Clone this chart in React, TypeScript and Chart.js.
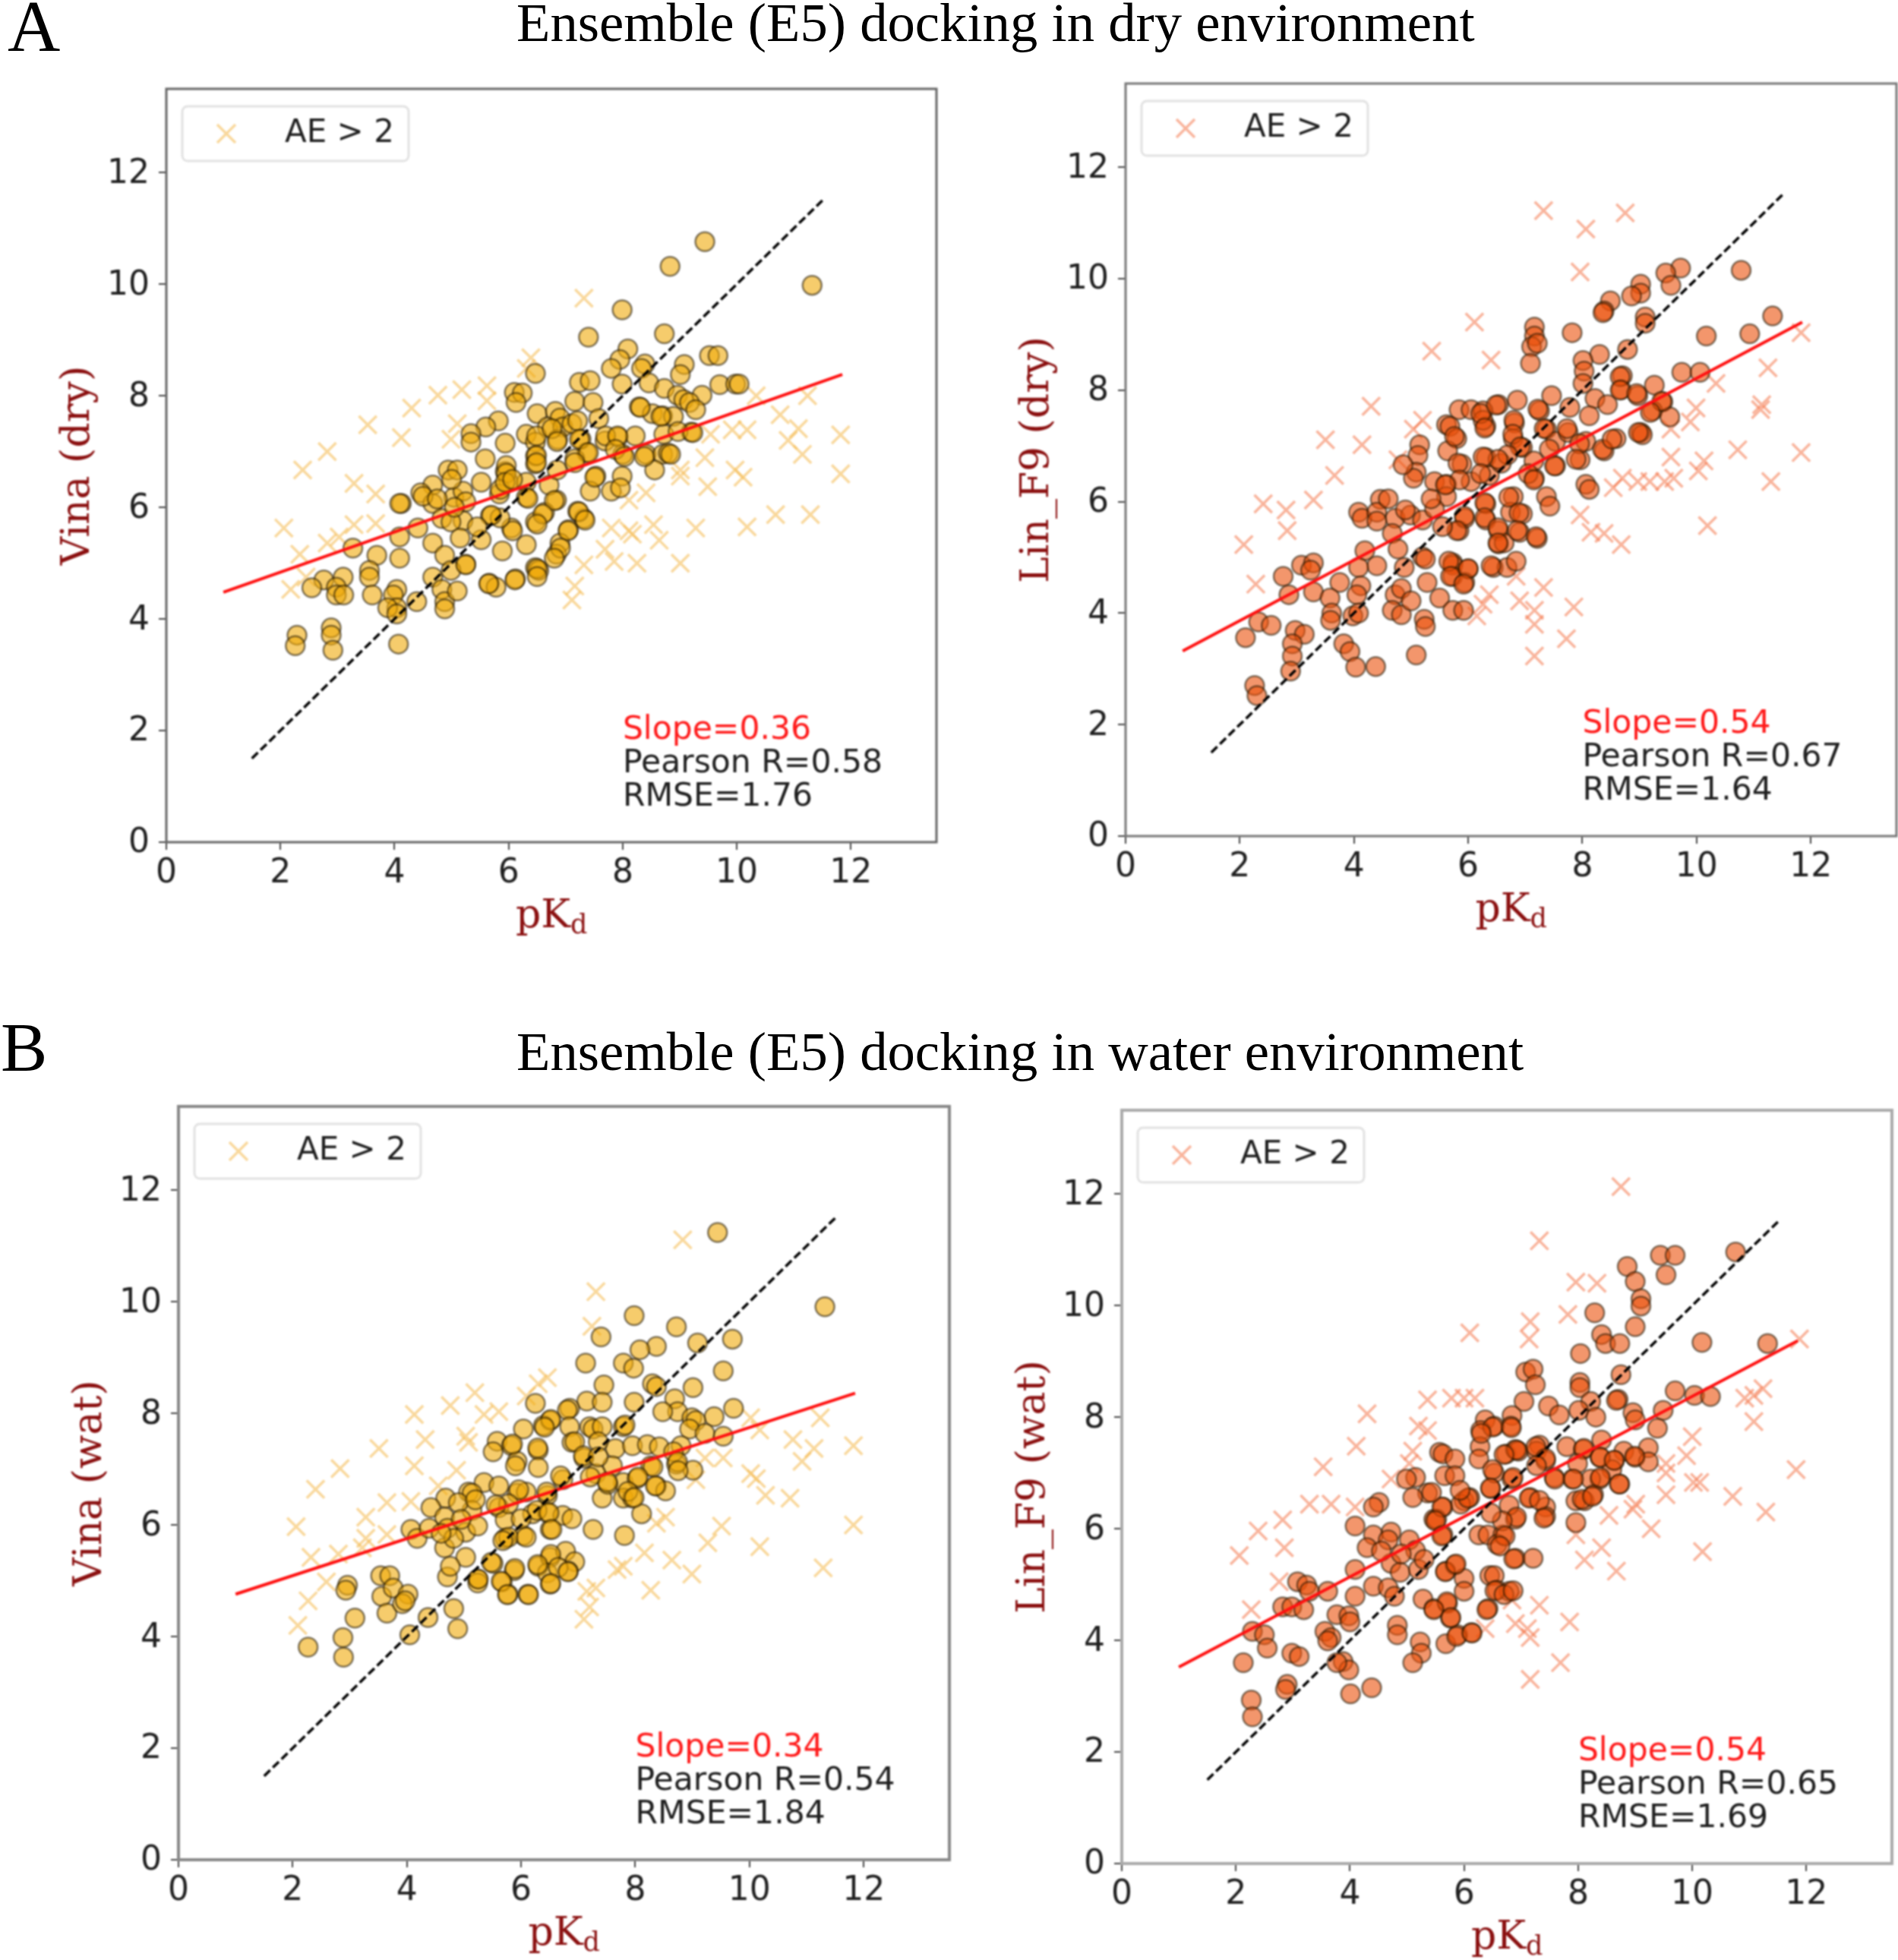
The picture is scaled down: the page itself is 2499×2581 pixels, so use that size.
import React, { useEffect, useRef } from "react";
import { Chart, registerables } from "chart.js";

Chart.register(...registerables);

type P = [number, number];

const vinaDryCircles: P[] = [[9.44,10.76],[8.83,10.32],[11.32,9.98],[7.99,9.54],[7.4,9.05],[8.73,9.11],[8.09,8.84],[9.52,8.72],[9.67,8.72],[7.95,8.65],[7.8,8.49],[8.39,8.57],[9.08,8.56],[6.47,8.4],[8.33,8.49],[6.1,8.06],[6.24,8.05],[6.13,7.88],[7.24,8.24],[7.43,8.27],[7.99,8.21],[8.46,8.23],[8.73,8.13],[9.01,8.38],[9.7,8.2],[9.98,8.21],[10.04,8.21],[9.39,8.01],[8.96,8.01],[9.07,7.93],[9.17,7.88],[9.28,7.75],[7.16,7.9],[8.29,7.8],[8.52,7.68],[8.7,7.64],[8.89,7.63],[7.48,7.88],[6.5,7.68],[6.82,7.72],[6.9,7.6],[6.68,7.44],[6.95,7.44],[7.11,7.5],[7.21,7.55],[5.82,7.55],[5.6,7.44],[5.34,7.32],[5.34,7.17],[6.31,7.31],[6.47,7.17],[5.94,7.15],[6.86,7.22],[7.27,7.22],[7.69,7.19],[7.92,7.26],[8.22,7.28],[8.72,7.31],[9.2,7.35],[7.37,6.98],[7.16,6.87],[6.47,6.92],[6.47,6.78],[5.59,6.87],[8.0,6.95],[8.41,6.95],[8.7,6.95],[8.8,6.97],[8.56,6.67],[7.53,6.56],[7.99,6.56],[4.94,6.67],[5.1,6.67],[5.94,6.64],[5.52,6.45],[6.0,6.45],[6.31,6.45],[4.67,6.4],[4.46,6.26],[4.67,6.07],[4.12,6.07],[4.09,6.07],[5.04,6.18],[5.2,6.29],[5.84,6.24],[6.31,6.18],[6.84,6.13],[7.43,6.29],[7.8,6.29],[7.96,6.35],[4.83,5.8],[5.2,5.76],[4.99,5.74],[5.68,5.85],[6.05,5.63],[6.47,5.74],[6.63,5.91],[7.05,5.6],[7.32,5.8],[7.21,5.93],[4.41,5.63],[4.09,5.47],[4.67,5.36],[5.52,5.42],[6.31,5.33],[6.9,5.36],[5.89,5.22],[4.88,5.14],[5.25,4.98],[3.27,5.27],[3.69,5.14],[4.09,5.09],[6.84,5.16],[6.47,4.92],[6.53,4.87],[4.67,4.75],[4.99,4.87],[3.56,4.87],[3.56,4.75],[3.61,4.43],[2.76,4.7],[3.1,4.75],[2.55,4.56],[2.98,4.57],[2.98,4.43],[3.11,4.43],[4.04,4.53],[3.98,4.43],[4.04,4.2],[4.39,4.31],[4.83,4.53],[4.88,4.31],[4.88,4.18],[5.1,4.5],[5.66,4.64],[5.78,4.57],[6.12,4.72],[3.88,4.2],[4.04,4.09],[2.29,3.71],[2.26,3.52],[2.89,3.84],[2.89,3.71],[2.92,3.44],[4.07,3.55]];
const vinaDryDense: P[] = [[6.49,7.28],[6.49,6.93],[6.49,6.8],[5.96,6.75],[5.96,6.61],[5.85,6.32],[5.94,6.45],[6.07,6.5],[6.34,6.16],[6.71,6.4],[6.85,6.67],[6.76,7.41],[6.85,7.18],[7.58,7.59],[7.24,7.22],[7.4,6.98],[7.16,6.8],[7.7,7.28],[7.91,7.28],[7.87,7.04],[8.03,6.91],[8.38,6.91],[8.84,6.95],[7.51,6.54],[6.8,6.12],[6.6,5.88],[6.5,5.7],[6.07,5.58],[5.85,5.81],[5.7,5.86],[7.23,5.92],[7.34,5.77],[7.04,5.58],[6.91,5.27],[6.8,5.09],[6.5,4.9],[6.5,4.76],[6.11,4.7],[5.65,4.63],[5.25,4.97],[8.31,7.79],[8.67,7.63],[8.97,7.36],[9.23,7.34],[5.0,6.5],[5.25,6.1],[4.5,6.2],[4.75,6.15],[5.05,6.0],[5.45,5.65],[5.15,5.45]];
const vinaDryCrosses: P[] = [[7.32,9.75],[6.39,8.68],[6.31,8.49],[4.76,8.01],[4.3,7.78],[5.18,8.11],[5.62,8.18],[5.62,7.91],[3.53,7.48],[4.12,7.25],[4.99,7.22],[5.1,7.5],[2.82,7.0],[2.39,6.67],[3.29,6.43],[3.67,6.24],[2.06,5.63],[3.29,5.69],[3.67,5.71],[2.34,5.16],[2.82,5.36],[3.03,5.47],[2.18,4.53],[2.45,4.75],[10.34,8.0],[11.24,8.0],[10.76,7.66],[11.08,7.41],[10.9,7.2],[11.15,6.95],[11.82,7.3],[11.82,6.6],[9.54,7.31],[9.92,7.39],[10.18,7.39],[9.44,6.89],[9.01,6.67],[9.01,6.56],[9.49,6.37],[9.97,6.67],[10.11,6.54],[10.18,5.65],[10.68,5.87],[11.29,5.87],[9.28,5.63],[9.01,5.0],[8.11,6.13],[8.41,6.26],[7.8,5.63],[8.11,5.58],[8.54,5.69],[8.64,5.41],[7.69,5.25],[7.85,5.03],[8.25,5.0],[7.32,4.97],[7.16,4.59],[7.11,4.34],[8.17,5.52]];

const linDryCircles: P[] = [[9.72,10.19],[9.46,10.1],[10.78,10.15],[9.55,9.88],[9.02,9.9],[9.02,9.74],[8.86,9.69],[8.49,9.6],[8.38,9.42],[8.36,9.39],[9.1,9.31],[9.1,9.2],[11.33,9.33],[10.17,8.97],[10.93,9.01],[7.16,9.13],[7.16,8.97],[7.11,8.78],[7.21,8.84],[7.09,8.48],[7.82,9.03],[8.79,8.73],[8.3,8.64],[8.01,8.53],[8.03,8.34],[8.01,8.12],[8.7,8.26],[8.68,8.01],[9.74,8.32],[10.06,8.32],[9.26,8.09],[8.97,7.9],[9.41,7.79],[9.23,7.63],[9.53,7.52],[7.46,7.9],[6.86,7.82],[6.53,7.74],[7.25,7.63],[5.84,7.65],[6.05,7.65],[6.26,7.63],[6.31,7.35],[6.26,7.46],[8.22,7.85],[8.44,7.74],[8.12,7.54],[5.62,7.38],[5.68,7.35],[5.8,7.13],[5.64,6.91],[5.15,7.02],[5.12,6.83],[5.09,6.53],[5.04,6.42],[4.86,6.66],[4.46,6.04],[5.89,6.67],[6.31,6.79],[6.81,7.41],[6.79,7.13],[6.95,6.97],[7.37,7.3],[7.53,7.08],[7.75,7.24],[8.06,7.08],[8.38,6.91],[8.59,7.13],[9.02,7.24],[9.05,7.2],[7.16,6.42],[7.37,6.09],[7.43,5.92],[7.53,6.64],[7.96,6.75],[8.06,6.31],[8.12,6.22],[5.41,6.36],[5.62,6.31],[6.05,6.36],[6.37,6.47],[6.58,6.69],[5.62,6.09],[6.31,5.96],[6.79,6.09],[6.74,5.81],[6.95,5.78],[4.08,5.81],[4.14,5.7],[4.4,5.81],[4.72,5.7],[4.99,5.76],[4.4,5.65],[5.2,5.67],[5.41,5.87],[5.84,5.48],[5.94,5.7],[6.31,5.67],[6.53,5.48],[6.9,5.45],[7.21,5.34],[6.53,5.24],[6.63,5.26],[4.67,5.43],[4.77,5.15],[4.19,5.12],[5.2,5.01],[5.25,4.97],[5.73,4.9],[5.73,4.86],[6.0,4.79],[5.73,4.66],[5.94,4.55],[6.44,4.82],[6.68,4.82],[6.84,4.93],[4.4,4.85],[4.08,4.82],[4.88,4.82],[3.08,4.86],[3.29,4.9],[3.24,4.77],[2.76,4.66],[2.86,4.33],[3.29,4.38],[3.75,4.55],[4.12,4.49],[4.05,4.33],[3.58,4.27],[3.61,4.0],[3.59,3.87],[3.98,3.95],[4.08,4.0],[4.72,4.33],[4.83,4.44],[4.67,4.05],[4.83,3.97],[5.0,4.22],[5.28,4.55],[5.5,4.27],[5.73,4.05],[5.92,4.05],[5.23,3.89],[5.25,3.76],[2.33,3.84],[2.55,3.78],[2.1,3.56],[2.97,3.69],[3.13,3.62],[2.92,3.45],[2.92,3.23],[2.89,2.96],[3.82,3.45],[3.93,3.31],[4.03,3.03],[4.38,3.04],[5.09,3.25],[2.26,2.7],[2.3,2.52]];
const linDryDense: P[] = [[6.22,7.58],[6.29,7.32],[6.49,7.73],[6.8,7.46],[6.78,7.21],[6.91,6.98],[7.22,7.66],[7.78,7.69],[7.33,7.31],[7.73,7.31],[7.42,6.94],[7.95,7.04],[8.35,6.94],[8.52,7.12],[7.89,6.76],[7.51,6.64],[7.15,6.73],[7.05,6.5],[7.15,6.39],[6.69,6.84],[6.52,6.76],[6.26,6.8],[5.82,6.69],[5.76,7.17],[6.22,6.5],[5.85,6.39],[5.6,6.3],[6.29,5.98],[6.71,6.08],[6.89,5.8],[6.29,5.71],[5.93,5.74],[5.8,5.48],[6.52,5.53],[6.52,5.26],[6.86,5.48],[7.19,5.37],[8.98,7.24],[8.66,8.24],[8.66,8.0],[8.95,7.94],[9.39,7.8],[9.19,7.6],[5.66,4.93],[6.0,4.8],[5.69,4.66],[5.92,4.52],[6.4,4.85],[4.6,6.05],[4.9,5.85],[5.55,5.55],[5.35,6.05]];
const linDryCrosses: P[] = [[7.32,11.22],[8.75,11.18],[8.06,10.89],[7.96,10.12],[6.11,9.22],[5.36,8.7],[6.4,8.54],[11.83,9.03],[11.25,8.4],[10.34,8.12],[11.14,7.74],[11.12,7.65],[9.99,7.68],[9.89,7.43],[9.55,7.3],[4.3,7.71],[3.5,7.11],[4.14,7.02],[5.2,7.46],[5.04,7.3],[3.66,6.47],[3.29,6.03],[2.41,5.96],[2.81,5.85],[2.83,5.48],[2.07,5.23],[2.28,4.52],[4.77,6.75],[10.72,6.93],[11.83,6.88],[11.3,6.36],[10.13,6.73],[10.03,6.55],[9.55,6.8],[8.54,6.25],[8.7,6.42],[8.97,6.36],[9.18,6.36],[9.44,6.36],[9.6,6.42],[10.19,5.57],[7.96,5.76],[8.15,5.45],[8.38,5.43],[8.68,5.23],[6.84,4.66],[7.32,4.46],[7.85,4.11],[6.9,4.22],[7.16,4.05],[7.16,3.8],[7.72,3.54],[7.16,3.23],[6.37,4.33],[6.26,4.16],[6.15,3.95]];

const vinaWatCircles: P[] = [[9.44,11.24],[11.32,9.91],[7.98,9.75],[8.72,9.55],[7.4,9.37],[9.7,9.33],[9.09,9.26],[8.37,9.2],[8.08,9.14],[7.79,8.9],[7.97,8.81],[7.13,8.9],[9.54,8.76],[8.3,8.53],[8.37,8.48],[9.01,8.46],[7.45,8.51],[8.69,8.26],[7.98,8.2],[8.74,8.03],[8.48,8.03],[7.15,8.22],[7.42,8.2],[6.25,8.18],[6.85,8.09],[6.81,8.06],[9.72,8.09],[9.38,7.94],[8.99,7.92],[9.06,7.87],[8.95,7.72],[6.51,7.87],[6.39,7.78],[6.04,7.72],[6.85,7.76],[6.89,7.48],[7.2,7.76],[7.26,7.72],[7.79,7.76],[5.58,7.5],[5.83,7.42],[5.51,7.31],[6.3,7.34],[6.3,7.03],[5.93,7.14],[5.9,7.06],[7.1,7.2],[7.65,7.37],[7.95,7.42],[8.21,7.44],[8.42,7.4],[8.8,7.42],[9.22,7.64],[9.54,7.59],[7.6,7.06],[8.27,7.06],[8.72,7.09],[9.01,6.98],[7.31,6.92],[5.35,6.76],[5.61,6.7],[5.08,6.59],[5.14,6.57],[4.68,6.48],[4.42,6.31],[4.66,6.14],[5.14,6.26],[5.93,6.57],[6.09,6.59],[6.46,6.53],[6.73,6.81],[7.79,6.76],[8.03,6.83],[7.79,6.48],[7.95,6.48],[8.11,6.2],[8.37,6.7],[8.53,6.61],[7.42,6.48],[7.52,6.73],[4.07,5.92],[4.18,5.76],[4.39,5.94],[4.71,5.94],[5.03,5.87],[5.24,5.98],[5.61,6.31],[5.72,6.09],[6.2,6.2],[6.46,6.22],[6.73,6.17],[6.89,6.11],[6.51,5.92],[6.04,5.81],[5.72,5.76],[7.26,5.92],[7.81,5.81],[4.66,5.59],[4.82,5.76],[5.03,5.42],[5.51,5.31],[5.88,5.18],[6.3,5.26],[6.51,5.42],[6.78,5.53],[6.94,5.34],[6.83,5.17],[6.46,5.14],[6.51,4.94],[4.71,5.07],[4.76,5.26],[5.24,5.03],[5.24,4.96],[5.67,4.98],[5.77,4.76],[6.12,4.76],[2.96,4.92],[2.93,4.83],[3.54,5.09],[3.7,5.09],[3.56,4.72],[3.76,4.87],[3.65,4.42],[4.02,4.76],[3.92,4.59],[3.97,4.64],[4.82,4.5],[4.37,4.34],[4.89,4.14],[4.05,4.03],[3.09,4.33],[2.88,3.98],[2.89,3.63],[2.27,3.81]];
const vinaWatDense: P[] = [[6.52,7.89],[6.41,7.75],[7.42,7.76],[6.94,7.49],[7.35,7.49],[7.82,7.79],[5.85,7.45],[6.29,7.38],[7.09,7.24],[7.35,7.22],[8.31,7.04],[8.67,7.31],[8.74,7.13],[8.75,6.97],[8.05,6.86],[8.35,6.7],[7.51,6.77],[7.87,6.6],[6.69,6.88],[7.21,6.86],[6.45,6.59],[5.96,6.63],[5.78,6.38],[6.28,6.26],[6.49,6.22],[5.56,6.36],[6.0,6.11],[6.54,5.92],[5.78,5.78],[6.09,5.78],[5.68,5.72],[6.52,5.47],[6.29,5.29],[6.65,5.24],[6.82,5.16],[6.52,4.95],[5.48,5.33],[5.89,5.22],[5.25,5.03],[5.65,4.99],[5.76,4.75],[6.13,4.75],[7.98,6.49],[4.9,6.4],[5.2,6.45],[4.95,6.1],[4.6,5.85]];
const vinaWatCrosses: P[] = [[8.83,11.11],[7.31,10.18],[7.24,9.56],[6.46,8.64],[6.3,8.53],[6.09,8.31],[5.19,8.37],[4.76,8.14],[4.13,7.98],[5.61,8.03],[5.35,7.98],[4.32,7.53],[5.03,7.59],[5.08,7.48],[3.51,7.37],[4.13,7.06],[2.83,7.01],[4.87,6.98],[2.4,6.64],[3.65,6.4],[3.28,6.14],[2.06,5.97],[3.65,5.83],[2.32,5.42],[3.28,5.76],[2.8,5.48],[3.22,5.59],[2.59,4.98],[2.27,4.64],[2.09,4.2],[4.55,6.7],[4.07,6.42],[10.02,7.92],[10.18,7.7],[11.24,7.92],[10.76,7.53],[11.13,7.37],[10.92,7.14],[11.82,7.42],[11.82,6.0],[11.29,5.23],[10.02,6.92],[10.12,6.83],[10.28,6.53],[10.71,6.48],[10.18,5.61],[9.51,5.98],[9.27,5.68],[8.99,5.12],[9.22,7.2],[9.54,7.2],[9.06,6.81],[8.53,6.14],[8.37,6.03],[8.16,5.5],[8.64,5.37],[8.27,4.83],[7.79,5.26],[7.68,5.2],[7.31,4.87],[7.15,4.81],[7.2,4.53],[7.1,4.31]];

const linWatCircles: P[] = [[10.76,10.96],[9.44,10.9],[9.7,10.9],[9.54,10.55],[8.86,10.7],[9.0,10.43],[9.1,10.12],[9.1,9.99],[9.0,9.62],[8.29,9.87],[8.41,9.48],[8.48,9.32],[8.73,9.32],[10.17,9.34],[11.32,9.32],[8.04,9.14],[7.08,8.81],[7.21,8.86],[7.25,8.58],[8.75,8.76],[8.03,8.62],[8.03,8.53],[8.22,8.28],[8.01,8.12],[8.31,8.0],[8.7,8.32],[8.67,8.3],[9.7,8.47],[10.04,8.39],[10.32,8.37],[9.49,8.12],[8.96,8.08],[9.0,7.95],[9.39,7.8],[7.48,8.2],[7.05,8.28],[7.67,8.04],[6.84,8.03],[6.82,7.84],[6.37,7.95],[6.53,7.84],[6.29,7.76],[6.28,7.47],[6.26,7.25],[5.57,7.37],[5.63,7.34],[5.84,7.25],[5.66,6.95],[5.84,6.95],[6.74,7.34],[6.9,7.42],[6.95,7.39],[7.32,7.5],[7.27,7.39],[7.43,7.22],[7.8,7.47],[8.09,7.42],[8.41,7.59],[8.8,7.39],[9.0,7.28],[9.23,7.45],[9.23,7.2],[8.38,7.28],[8.64,7.22],[8.59,7.06],[8.38,6.89],[8.73,6.8],[5.15,6.92],[4.99,6.89],[5.36,6.64],[5.1,6.56],[4.51,6.47],[4.41,6.39],[5.63,6.39],[6.0,6.5],[6.1,6.56],[6.47,6.72],[6.53,7.0],[6.84,6.89],[7.58,6.92],[7.9,6.89],[8.22,6.89],[7.96,6.5],[8.11,6.5],[8.27,6.61],[7.16,6.56],[7.43,6.39],[7.43,6.22],[6.9,6.17],[4.09,6.05],[5.47,6.17],[5.52,6.17],[5.63,5.89],[6.26,5.89],[6.42,5.89],[6.68,5.89],[6.58,5.72],[7.96,6.11],[4.41,5.89],[4.72,5.94],[4.67,5.8],[5.04,5.8],[4.3,5.66],[5.15,5.61],[6.9,5.47],[7.21,5.47],[4.72,5.38],[4.88,5.22],[5.2,5.27],[5.68,5.24],[5.84,5.35],[6.0,5.11],[6.45,5.16],[6.53,5.16],[4.09,5.27],[4.09,4.79],[4.41,4.97],[4.67,4.94],[4.78,4.79],[6.0,4.88],[6.58,4.9],[6.79,4.88],[5.28,4.74],[5.47,4.57],[5.71,4.66],[6.42,4.57],[5.76,4.4],[3.08,5.05],[3.24,4.99],[3.29,4.88],[3.61,4.88],[2.82,4.6],[2.98,4.6],[3.19,4.55],[3.77,4.46],[3.98,4.44],[4.0,4.33],[4.83,4.27],[4.83,4.1],[3.56,4.16],[3.67,4.05],[3.61,3.99],[5.68,3.94],[5.89,4.1],[6.13,4.14],[2.29,4.16],[2.5,4.1],[2.55,3.86],[2.13,3.6],[2.98,3.77],[3.11,3.71],[5.23,3.97],[5.25,3.77],[5.1,3.6],[3.88,3.62],[3.98,3.47],[3.77,3.6],[2.9,3.21],[2.87,3.12],[4.01,3.04],[4.38,3.15],[2.27,2.93],[2.29,2.63]];
const linWatDense: P[] = [[6.5,7.82],[6.3,7.71],[6.83,7.81],[6.92,7.41],[6.7,7.33],[7.26,7.47],[7.43,7.26],[7.27,7.13],[8.1,7.44],[7.99,7.17],[7.59,6.89],[7.92,6.89],[8.39,7.28],[8.63,7.23],[8.99,7.3],[8.39,6.92],[8.72,6.8],[8.07,6.53],[8.25,6.58],[6.86,6.92],[6.5,7.06],[6.46,6.73],[5.94,6.44],[6.07,6.55],[5.61,6.39],[5.43,6.65],[5.93,6.69],[6.79,6.42],[7.14,6.55],[7.32,6.51],[7.4,6.19],[6.92,6.21],[6.67,6.14],[6.47,6.28],[5.5,6.14],[5.61,5.87],[6.72,5.87],[6.63,5.69],[6.87,5.46],[5.67,5.23],[5.86,5.37],[6.54,4.89],[6.7,4.82],[6.86,4.89],[6.4,4.55],[5.7,4.69],[5.47,4.55],[5.77,4.41],[5.87,4.07],[6.14,4.13],[4.55,5.6],[4.9,5.55],[5.3,5.45]];
const linWatCrosses: P[] = [[8.75,12.13],[7.32,11.16],[7.96,10.42],[8.33,10.4],[7.16,9.71],[7.14,9.4],[7.82,9.84],[6.1,9.51],[11.88,9.4],[11.24,8.51],[11.08,8.39],[10.92,8.34],[11.08,7.92],[5.36,8.31],[5.78,8.34],[6.0,8.34],[6.19,8.34],[4.3,8.06],[5.2,7.84],[5.36,7.76],[4.11,7.48],[5.1,7.39],[5.04,7.17],[3.53,7.11],[4.72,6.89],[3.29,6.44],[3.67,6.44],[4.09,6.39],[2.39,5.96],[2.82,6.16],[2.85,5.66],[2.06,5.52],[2.76,5.05],[2.27,4.55],[10.0,7.65],[9.9,7.31],[9.54,7.17],[9.54,7.0],[9.54,6.61],[11.82,7.06],[10.71,6.58],[11.29,6.3],[10.02,6.83],[10.13,6.83],[9.01,6.44],[8.96,6.35],[9.28,6.0],[8.54,6.24],[10.18,5.59],[7.96,5.89],[8.11,5.44],[8.41,5.66],[8.67,5.24],[7.32,4.63],[7.85,4.33],[6.84,4.72],[6.9,4.3],[7.11,4.21],[7.16,4.05],[7.69,3.6],[7.16,3.3],[6.37,4.21]];

const identityLine: P[] = [[1.5,1.5],[11.5,11.5]];
const vinaDryFit: P[] = [[1.0,4.48],[11.85,8.38]];
const linDryFit: P[] = [[1.0,3.32],[11.85,9.22]];
const vinaWatFit: P[] = [[1.0,4.76],[11.85,8.36]];
const linWatFit: P[] = [[1.0,3.52],[11.85,9.37]];

const legendLabel = "AE > 2";
const xLabel = "pK";
const xLabelSub = "d";
const xTicks = { min: 0, max: 13.5, step: 2 };

const INK = "#1f1f1f";
const SERIF = '"DejaVu Serif", serif';
const SANS = '"DejaVu Sans", sans-serif';

interface PanelProps {
  box: [number, number, number, number];
  yLabel: string;
  circles: P[];
  crosses: P[];
  fit: P[];
  fill: string;
  crossColor: string;
  frame: string;
  frameWidth: number;
  stats: string[];
}

const panelPlugin = {
  id: "panelExtras",
  afterDatasetsDraw(chart: any, _a: any, o: any) {
    const { ctx, chartArea: c, scales } = chart;
    ctx.save();
    ctx.strokeStyle = o.frame;
    ctx.lineWidth = o.frameWidth;
    ctx.strokeRect(c.left, c.top, c.right - c.left, c.bottom - c.top);
    ctx.fillStyle = "rgba(255,255,255,0.8)";
    ctx.strokeStyle = "#e2e2e2";
    ctx.lineWidth = 3;
    ctx.beginPath();
    ctx.roundRect(c.left + 21, c.top + 23, 298, 72, 7);
    ctx.fill();
    ctx.stroke();
    const lx = c.left + 79, ly = c.top + 59, h = 12;
    ctx.strokeStyle = o.crossColor;
    ctx.lineWidth = 3.5;
    ctx.beginPath();
    ctx.moveTo(lx - h, ly - h); ctx.lineTo(lx + h, ly + h);
    ctx.moveTo(lx - h, ly + h); ctx.lineTo(lx + h, ly - h);
    ctx.stroke();
    ctx.fillStyle = INK;
    ctx.font = `42px ${SANS}`;
    ctx.textBaseline = "middle";
    ctx.textAlign = "left";
    ctx.fillText(legendLabel, c.left + 156, ly);
    const sx = scales.x.getPixelForValue(8);
    ctx.font = `42.5px ${SANS}`;
    o.stats.forEach((t: string, i: number) => {
      ctx.fillStyle = i === 0 ? "#ff1a1a" : INK;
      ctx.fillText(t, sx, scales.y.getPixelForValue(2 - 0.6 * i));
    });
    const midX = (c.left + c.right) / 2;
    ctx.fillStyle = "#8b1010";
    ctx.font = `52px ${SERIF}`;
    const w1 = ctx.measureText(xLabel).width;
    ctx.textBaseline = "alphabetic";
    ctx.fillText(xLabel, midX - (w1 + 22) / 2, c.bottom + 112);
    ctx.font = `35px ${SERIF}`;
    ctx.fillText(xLabelSub, midX - (w1 + 22) / 2 + w1, c.bottom + 120);
    ctx.restore();
  },
};

function Panel({ box, yLabel, circles, crosses, fit, fill, crossColor, frame, frameWidth, stats }: PanelProps) {
  const ref = useRef<HTMLCanvasElement>(null);
  const [l, t, r, b] = box;
  const padL = 200, padT = 50, padR = 30, padB = 150;
  useEffect(() => {
    const toPts = (a: P[]) => a.map(([x, y]) => ({ x, y }));
    const axisBase = {
      type: "linear" as const,
      min: xTicks.min,
      max: xTicks.max,
      grid: { drawOnChartArea: false, drawTicks: true, tickLength: 10, color: "#444", lineWidth: 2 },
      border: { display: false },
    };
    const chart = new Chart(ref.current!, {
      type: "scatter",
      data: {
        datasets: [
          { label: legendLabel, data: toPts(crosses), pointStyle: "crossRot", pointRadius: 16.5, pointBorderColor: crossColor, pointBorderWidth: 3.5, backgroundColor: "transparent", order: 4 } as any,
          { label: "AE < 2", data: toPts(circles), pointStyle: "circle", pointRadius: 12.5, pointBackgroundColor: fill, pointBorderColor: "rgba(30,20,0,0.55)", pointBorderWidth: 2.5, order: 3 } as any,
          { type: "line", label: "Fit", data: toPts(fit), borderColor: "#ff1010", borderWidth: 4, pointRadius: 0, order: 2 } as any,
          { type: "line", label: "y = x", data: toPts(identityLine), borderColor: "#000", borderWidth: 3.5, borderDash: [11, 5], pointRadius: 0, order: 1 } as any,
        ],
      },
      options: {
        animation: false,
        responsive: false,
        layout: { padding: { left: 0, top: padT, right: padR, bottom: 0 } },
        plugins: {
          legend: { display: false },
          tooltip: { enabled: false },
          panelExtras: { frame, frameWidth, stats, crossColor },
        } as any,
        scales: {
          x: {
            ...axisBase,
            afterFit: (s: any) => { s.height = padB; },
            ticks: { stepSize: xTicks.step, includeBounds: false, maxRotation: 0, color: INK, font: { family: '"DejaVu Sans"', size: 44 }, padding: 5 },
          },
          y: {
            ...axisBase,
            afterFit: (s: any) => { s.width = padL; },
            ticks: { stepSize: xTicks.step, includeBounds: false, color: INK, font: { family: '"DejaVu Sans"', size: 44 }, padding: 12, labelOffset: 2 },
            title: { display: true, text: yLabel, color: "#8b1010", font: { family: '"DejaVu Serif"', size: 52 }, padding: { top: 53, bottom: 0 } },
          },
        },
      } as any,
      plugins: [panelPlugin],
    });
    return () => chart.destroy();
  }, []);
  return (
    <canvas
      ref={ref}
      width={r - l + padL + padR}
      height={b - t + padT + padB}
      style={{ position: "absolute", left: l - padL, top: t - padT, width: r - l + padL + padR, height: b - t + padT + padB, filter: "blur(1.3px)" }}
    />
  );
}

const titleStyle: React.CSSProperties = { position: "absolute", fontFamily: '"Liberation Serif", serif', color: "#000", whiteSpace: "nowrap", lineHeight: 1 };

export default function App() {
  return (
    <div style={{ position: "absolute", left: 0, top: 0, width: 2499, height: 2581, overflow: "hidden", background: "#fff" }}>
      <div style={{ ...titleStyle, left: 10, top: -13, fontSize: 96 }}>A</div>
      <div style={{ ...titleStyle, left: 680, top: -6, fontSize: 72.7 }}>Ensemble (E5) docking in dry environment</div>
      <div style={{ ...titleStyle, left: 1, top: 1333, fontSize: 92 }}>B</div>
      <div style={{ ...titleStyle, left: 680, top: 1349, fontSize: 72.7 }}>Ensemble (E5) docking in water environment</div>
      <Panel box={[219, 117, 1233, 1109]} yLabel="Vina (dry)" circles={[...vinaDryCircles, ...vinaDryDense]} crosses={vinaDryCrosses} fit={vinaDryFit} fill="rgba(240,170,10,0.6)" crossColor="rgba(245,190,90,0.6)" frame="#666" frameWidth={3} stats={["Slope=0.36", "Pearson R=0.58", "RMSE=1.76"]} />
      <Panel box={[1482, 110, 2497, 1101]} yLabel="Lin_F9 (dry)" circles={[...linDryCircles, ...linDryDense]} crosses={linDryCrosses} fit={linDryFit} fill="rgba(235,80,10,0.6)" crossColor="rgba(245,130,90,0.6)" frame="#777" frameWidth={3} stats={["Slope=0.54", "Pearson R=0.67", "RMSE=1.64"]} />
      <Panel box={[235, 1457, 1250, 2449]} yLabel="Vina (wat)" circles={[...vinaWatCircles, ...vinaWatDense]} crosses={vinaWatCrosses} fit={vinaWatFit} fill="rgba(240,170,10,0.6)" crossColor="rgba(245,190,90,0.6)" frame="#888" frameWidth={4} stats={["Slope=0.34", "Pearson R=0.54", "RMSE=1.84"]} />
      <Panel box={[1477, 1462, 2491, 2454]} yLabel="Lin_F9 (wat)" circles={[...linWatCircles, ...linWatDense]} crosses={linWatCrosses} fit={linWatFit} fill="rgba(235,80,10,0.6)" crossColor="rgba(245,130,90,0.6)" frame="#aaa" frameWidth={4} stats={["Slope=0.54", "Pearson R=0.65", "RMSE=1.69"]} />
    </div>
  );
}
